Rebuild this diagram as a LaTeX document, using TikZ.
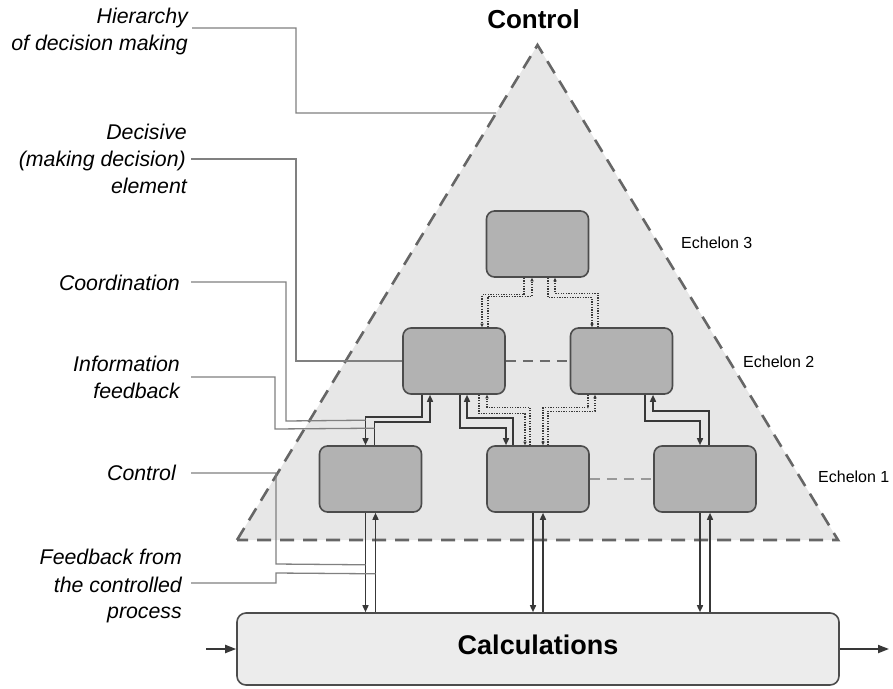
\documentclass[tikz,border=0pt]{standalone}
\usepackage{fontspec}
\setmainfont{Liberation Sans}
\usetikzlibrary{arrows.meta,calc}

\definecolor{trifill}{gray}{0.905}
\definecolor{triline}{gray}{0.40}
\definecolor{boxfill}{gray}{0.70}
\definecolor{boxline}{gray}{0.30}
\definecolor{calcfill}{gray}{0.925}
\definecolor{linkcol}{gray}{0.22}
\definecolor{leadcol}{gray}{0.50}
\definecolor{peerdark}{gray}{0.42}
\definecolor{peerlight}{gray}{0.60}

\begin{document}
\begin{tikzpicture}[x=1pt,y=-1pt,
  box/.style={draw=boxline, fill=boxfill, line width=1.6pt, rounded corners=8pt,
    minimum width=102pt, minimum height=66pt, inner sep=0pt},
  calcbox/.style={draw=boxline, fill=calcfill, line width=1.6pt, rounded corners=9pt,
    minimum width=602pt, minimum height=72pt, inner sep=0pt,
    font=\fontsize{27}{30}\selectfont\bfseries, text height=19.5pt, text depth=8pt},
  tri/.style={draw=triline, fill=trifill, line width=2.6pt, dash pattern=on 14pt off 9pt},
  link/.style={draw=linkcol, line width=1.5pt, -{Triangle[length=7pt,width=6pt]}},
  dotlink/.style={draw=linkcol, line width=1.1pt, dash pattern=on 1.3pt off 1.3pt,
    -{Triangle[length=3.5pt,width=3.2pt]}},
  flow/.style={draw=linkcol, line width=1.9pt, -{Triangle[length=11pt,width=8pt]}},
  peer/.style={line width=1.4pt, dash pattern=on 10pt off 7pt},
  lead/.style={draw=leadcol, line width=1.3pt},
  lab/.style={font=\fontsize{21.3}{27}\selectfont\itshape, anchor=base east, inner sep=0pt},
  ech/.style={font=\fontsize{16}{19}\selectfont, anchor=base west, inner sep=0pt},
  title/.style={font=\fontsize{26}{30}\selectfont\bfseries, anchor=base, inner sep=0pt},
]
\useasboundingbox (0,0) rectangle (893,688);

% the control pyramid
\coordinate (tl) at (237,540);
\coordinate (apex) at (537.5,45);
\coordinate (tr) at (838,540);
\draw[tri] (tl) -- (apex) -- (tr) -- cycle;
\node[title] (ttl) at (533.5,28) {Control};

% decision elements, three echelons
\node[box] (e3)  at (537.5,244) {};
\node[box] (e2l) at (454,361) {};
\node[box] (e2r) at (621.5,361) {};
\node[box] (e1l) at (370.5,479) {};
\node[box] (e1m) at (538,479) {};
\node[box] (e1r) at (705,479) {};
\node[calcbox] (calc) at (538,649) {Calculations};

% echelon names
\node[ech] (ech3) at (681,248) {Echelon 3};
\node[ech] (ech2) at (743,367) {Echelon 2};
\node[ech] (ech1) at (818,482) {Echelon 1};

% links between elements of one echelon
\draw[peer, draw=peerdark]  (e2l.east) -- (e2r.west);
\draw[peer, draw=peerlight] (e1m.east) -- (e1r.west);

% coordination, echelon 3 to echelon 2 (dotted)
\draw[dotlink] ([xshift=-13.5pt]e3.south) -- ++(0,17) -| ([xshift=28pt]e2l.north);
\draw[dotlink] ([xshift=34pt]e2l.north) -- ++(0,-31) -| ([xshift=-5.5pt]e3.south);
\draw[dotlink] ([xshift=10.5pt]e3.south) -- ++(0,20) -| ([xshift=-29.5pt]e2r.north);
\draw[dotlink] ([xshift=-23.5pt]e2r.north) -- ++(0,-34) -| ([xshift=17.5pt]e3.south);

% coordination, echelon 2 to the middle element of echelon 1 (dotted)
\draw[dotlink] ([xshift=25pt]e2l.south) -- ++(0,19) -| ([xshift=-13pt]e1m.north);
\draw[dotlink] ([xshift=-8pt]e1m.north) -- ++(0,-38) -| ([xshift=33pt]e2l.south);
\draw[dotlink] ([xshift=-33.5pt]e2r.south) -- ++(0,13) -| ([xshift=5pt]e1m.north);
\draw[dotlink] ([xshift=10pt]e1m.north) -- ++(0,-34) -| ([xshift=-26.5pt]e2r.south);

% control and information feedback, echelon 2 to echelon 1
\draw[link] ([xshift=-32pt]e2l.south) -- ++(0,22) -| ([xshift=-5pt]e1l.north);
\draw[link] ([xshift=4pt]e1l.north) -- ++(0,-23) -| ([xshift=-24pt]e2l.south);
\draw[link] ([xshift=6pt]e2l.south) -- ++(0,33) -| ([xshift=-32pt]e1m.north);
\draw[link] ([xshift=-25pt]e1m.north) -- ++(0,-27) -| ([xshift=13pt]e2l.south);
\draw[link] ([xshift=23.5pt]e2r.south) -- ++(0,26) -| ([xshift=-5pt]e1r.north);
\draw[link] ([xshift=4pt]e1r.north) -- ++(0,-34) -| ([xshift=31.5pt]e2r.south);

% echelon 1 and the controlled process
\foreach \b in {e1l,e1m,e1r}{
  \draw[link] ([xshift=-5pt]\b.south) -- ([xshift=-5pt]\b.south |- calc.north);
  \draw[link] ([xshift=5pt]\b.south |- calc.north) -- ([xshift=5pt]\b.south);
}

% process input and output
\coordinate (pin) at (206,649);
\coordinate (pout) at (889,649);
\draw[flow] (pin) -- (calc.west);
\draw[flow] (calc.east) -- (pout);

% explanatory labels
\node[lab] (h1) at (188,23) {Hierarchy};
\node[lab] (h2) at (188,50) {of decision making};
\node[lab] (d1) at (187,139) {Decisive};
\node[lab] (d2) at (186,166) {(making decision)};
\node[lab] (d3) at (187,193) {element};
\node[lab] (co) at (180,290) {Coordination};
\node[lab] (i1) at (180,371) {Information};
\node[lab] (i2) at (180,398) {feedback};
\node[lab] (ct) at (176,480) {Control};
\node[lab] (f1) at (182,564) {Feedback from};
\node[lab] (f2) at (182,592) {the controlled};
\node[lab] (f3) at (182,618) {process};

% leader lines from the labels
\coordinate (hA) at (192,28);
\coordinate (dA) at (191,159);
\coordinate (cA) at (191,282);
\coordinate (iA) at (191,377);
\coordinate (kA) at (191,473);
\coordinate (fA) at (191,583);
\draw[lead] (hA) -| (296,113) -- ($(tl)!0.8626!(apex)$);
\draw[lead] (dA) -| (296,361) -- (e2l.west);
\draw[lead] (cA) -| (286,421) -- ($(e1l.north)+(-5,-25)$);
\draw[lead] (iA) -| (275,429) -- ($(e1l.north)+(4,-17)$);
\draw[lead] (kA) -| (276,564) -- ($(e1l.south)+(-5,52)$);
\draw[lead] (fA) -| (276,573) -- ($(e1l.south)+(5,61)$);
\end{tikzpicture}
\end{document}
